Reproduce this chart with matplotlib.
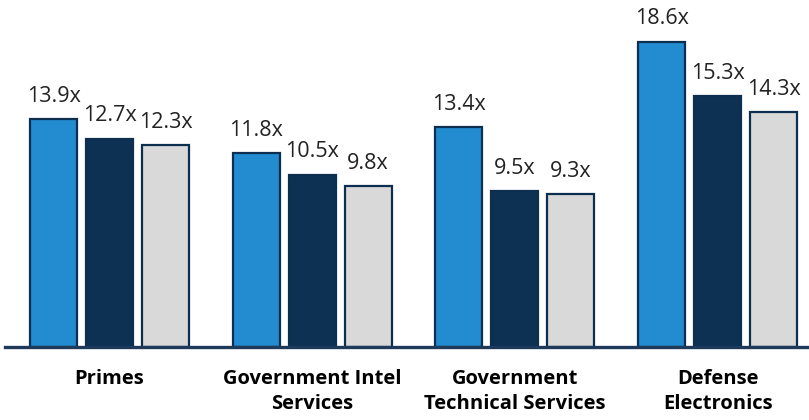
import numpy as np
import matplotlib
matplotlib.use('Agg')
import matplotlib.pyplot as plt

categories = ['Primes', 'Government Intel\nServices', 'Government\nTechnical Services', 'Defense\nElectronics']
series_a = [13.9, 11.8, 13.4, 18.6]
series_b = [12.7, 10.5, 9.5, 15.3]
series_c = [12.3, 9.8, 9.3, 14.3]

colors = ['#238BD0', '#0D3153', '#D9D9D9']
edge = '#0D2F4F'

plt.rcParams['font.family'] = ['Open Sans', 'DejaVu Sans']

fig = plt.figure(figsize=(8.09, 4.20), dpi=100)
ax = fig.add_axes([5/809, 73/420, 804/809, 347/420])

group_x = np.arange(len(categories)) * 3.62
width = 0.84
for i, vals in enumerate([series_a, series_b, series_c]):
    xs = group_x + (i - 1)
    bars = ax.bar(xs, vals, width, color=colors[i], edgecolor=edge, linewidth=1.6, zorder=2)
    for x, v in zip(xs, vals):
        ax.annotate(f'{v:.1f}x', (x, v), xytext=(0, 9), textcoords='offset points',
                    ha='center', va='bottom', fontsize=15.5, color='#222222')

ax.set_xlim(-104.5/56, (809 - 109.5)/56)
ax.set_ylim(0, 347/16.4)
ax.set_xticks(group_x)
ax.set_xticklabels(categories, fontsize=14.5, fontweight='bold', color='#000000', linespacing=1.3)
ax.tick_params(axis='x', length=0, pad=16)
ax.set_yticks([])
for s in ['top', 'right', 'left']:
    ax.spines[s].set_visible(False)
ax.spines['bottom'].set_color('#1E3A5A')
ax.spines['bottom'].set_linewidth(2.4)
ax.spines['bottom'].set_zorder(3)

fig.savefig('out.png', dpi=100)
